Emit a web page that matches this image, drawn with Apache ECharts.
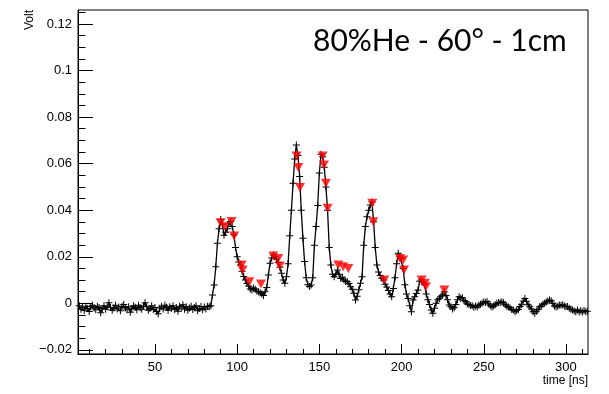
<!DOCTYPE html>
<html>
<head>
<meta charset="utf-8">
<script src="https://cdn.jsdelivr.net/npm/echarts@6/dist/echarts.min.js"></script>
<style>html,body{margin:0;padding:0;background:#fff}#c{width:609px;height:394px}</style>
</head>
<body>
<div id="c"></div>
<script>
// Sample times: waveform sampled every 1 ns starting at 4 ns
const sampleStartNs = 4;
const sampleStepNs = 1;
// Voltage samples (V), one per ns from 4 ns to 313 ns
const voltage = [
-0.0010,-0.0025,-0.0018,-0.0030,-0.0012,-0.0022,-0.0035,-0.0015,-0.0008,-0.0020,
-0.0028,-0.0012,-0.0018,-0.0040,-0.0022,-0.0010,-0.0025,-0.0015,0.0002,-0.0018,
-0.0030,-0.0020,-0.0008,-0.0024,-0.0016,-0.0032,-0.0012,-0.0005,-0.0020,-0.0027,
-0.0015,-0.0038,-0.0022,-0.0010,-0.0017,-0.0028,-0.0008,-0.0019,-0.0025,-0.0012,
0.0003,-0.0015,-0.0030,-0.0022,-0.0010,-0.0026,-0.0018,-0.0035,-0.0045,-0.0020,
-0.0012,-0.0024,-0.0008,-0.0017,-0.0030,-0.0015,-0.0022,-0.0010,-0.0028,-0.0018,
-0.0034,-0.0012,-0.0020,-0.0006,-0.0025,-0.0015,-0.0030,-0.0020,-0.0012,-0.0026,
-0.0018,-0.0010,-0.0032,-0.0022,-0.0014,-0.0027,-0.0016,-0.0024,-0.0012,
// 83 ns ->
-0.0015,-0.0010,0.0036,0.0079,0.0157,0.0258,0.0320,0.0360,0.0340,0.0293,
0.0305,0.0320,0.0345,0.0352,0.0330,0.0295,0.0240,0.0200,0.0178,0.0165,
0.0138,0.0115,0.0100,0.0085,0.0074,0.0062,0.0057,0.0066,0.0060,0.0052,
0.0050,0.0045,0.0040,0.0034,0.0050,0.0068,0.0122,0.0172,0.0195,0.0208,
0.0200,0.0190,0.0175,0.0155,0.0129,0.0100,0.0086,0.0114,0.0170,0.0290,
0.0400,0.0516,0.0620,0.0680,0.0635,0.0545,0.0400,0.0280,0.0180,0.0110,
0.0080,0.0072,0.0079,0.0110,0.0250,0.0330,0.0420,0.0560,0.0640,0.0630,
0.0585,0.0500,0.0400,0.0240,0.0165,0.0125,0.0114,0.0125,0.0143,0.0125,
0.0107,0.0112,0.0100,0.0094,0.0093,0.0085,0.0071,0.0060,0.0043,0.0014,
0.0030,0.0058,0.0086,0.0114,0.0250,0.0330,0.0372,0.0400,0.0422,0.0435,
0.0350,0.0240,0.0165,0.0135,0.0120,0.0108,0.0100,0.0082,0.0070,0.0055,
0.0040,0.0028,0.0064,0.0110,0.0170,0.0215,0.0200,0.0193,0.0150,0.0080,
0.0040,0.0021,-0.0010,-0.0036,0.0014,0.0028,0.0042,0.0057,0.0095,0.0100,
0.0092,0.0080,0.0040,0.0015,-0.0005,-0.0029,-0.0043,-0.0021,0.0000,0.0015,
0.0021,0.0030,0.0036,0.0050,0.0034,0.0015,-0.0007,-0.0015,-0.0024,-0.0019,
-0.0005,0.0015,0.0028,0.0022,0.0024,0.0012,0.0007,-0.0003,-0.0005,-0.0009,
-0.0010,-0.0017,-0.0011,-0.0016,-0.0008,-0.0004,0.0000,0.0006,0.0004,0.0008,
-0.0002,-0.0010,-0.0016,-0.0011,-0.0006,0.0000,0.0004,0.0002,0.0007,0.0002,
-0.0006,-0.0012,-0.0016,-0.0019,-0.0026,-0.0029,-0.0036,-0.0031,-0.0026,-0.0014,
-0.0006,0.0010,0.0021,0.0009,-0.0006,-0.0015,-0.0024,-0.0036,-0.0043,-0.0034,
-0.0026,-0.0015,-0.0011,-0.0004,0.0000,0.0006,0.0010,0.0014,0.0011,0.0000,
-0.0011,-0.0016,-0.0012,-0.0007,-0.0008,-0.0006,-0.0011,-0.0015,-0.0014,-0.0021,
-0.0025,-0.0029,-0.0033,-0.0036,-0.0029,-0.0037,-0.0032,-0.0037,-0.0031,-0.0036,
-0.0034
];
// Peaks found (red markers)
const peakTimes = [89.9,92.6,96.6,98.2,102.7,103.3,107.4,114.5,122,125,126,136.2,137.2,138.2,152,152.8,154,155,161.5,164.5,167.6,182.2,182.8,189.5,199,201,201.5,212.2,214.2,214.8,226];
const peakVolts = [0.0346,0.0329,0.0351,0.0289,0.0165,0.0143,0.0093,0.0083,0.0203,0.0193,0.016,0.0633,0.0583,0.0498,0.0633,0.0594,0.0516,0.0408,0.0165,0.0157,0.015,0.043,0.035,0.01,0.0193,0.0186,0.0143,0.01,0.0086,0.0071,0.0057];
// Axis ticks
const xMajorTicks = [50,100,150,200,250,300];
const xMinorTicks = [10,20,30,40,60,70,80,90,110,120,130,140,160,170,180,190,210,220,230,240,260,270,280,290,310];
const yMajorTicks = [-0.02,0,0.02,0.04,0.06,0.08,0.1,0.12];
const yMinorTicks = [-0.015,-0.01,-0.005,0.005,0.01,0.015,0.025,0.03,0.035,0.045,0.05,0.055,0.065,0.07,0.075,0.085,0.09,0.095,0.105,0.11,0.115,0.125];
const titleText = '80%He - 60° - 1cm';

const wave = voltage.map((v, i) => [sampleStartNs + i * sampleStepNs, v]);
const peaks = peakTimes.map((t, i) => [t, peakVolts[i]]);

const X_MIN = 3.2, X_MAX = 313.4, Y_MIN = -0.02176, Y_MAX = 0.126;
const FONT = 'Liberation Sans';
const plus = 'path://M3,0H4V3H7V4H4V7H3V4H0V3H3Z';

const fmtY = v => {
  const s = String(Number(v.toFixed(3)));
  return s.replace('-', '\u2212');
};

const chart = echarts.init(document.getElementById('c'), null, {renderer: 'canvas'});
chart.setOption({
  animation: false,
  backgroundColor: '#fff',
  grid: {left: 78, right: 21, top: 10, bottom: 40, show: true, borderColor: '#000', borderWidth: 1, backgroundColor: 'transparent'},
  xAxis: [
    {type: 'value', min: X_MIN, max: X_MAX, position: 'bottom',
     splitLine: {show: false},
     axisLine: {show: true, onZero: false, lineStyle: {color: '#000', width: 1}},
     axisTick: {show: true, inside: true, length: 10, customValues: xMajorTicks, lineStyle: {color: '#000', width: 1}},
     axisLabel: {show: true, customValues: xMajorTicks, color: '#000', fontFamily: FONT, fontSize: 13, margin: 7},
     name: 'time [ns]', nameLocation: 'end', nameGap: 0,
     nameTextStyle: {color: '#000', fontFamily: FONT, fontSize: 12, align: 'right', verticalAlign: 'top', padding: [21, 0, 0, 0]}
    },
    {type: 'value', min: X_MIN, max: X_MAX, position: 'bottom',
     splitLine: {show: false},
     axisLine: {show: false, onZero: false},
     axisTick: {show: true, inside: true, length: 5, customValues: xMinorTicks, lineStyle: {color: '#000', width: 1}},
     axisLabel: {show: false}
    }
  ],
  yAxis: [
    {type: 'value', min: Y_MIN, max: Y_MAX, position: 'left',
     splitLine: {show: false},
     axisLine: {show: true, onZero: false, lineStyle: {color: '#000', width: 1}},
     axisTick: {show: true, inside: true, length: 15, customValues: yMajorTicks, lineStyle: {color: '#000', width: 1}},
     axisLabel: {show: true, customValues: yMajorTicks, formatter: fmtY, color: '#000', fontFamily: FONT, fontSize: 13, margin: 6}
    },
    {type: 'value', min: Y_MIN, max: Y_MAX, position: 'left',
     splitLine: {show: false},
     axisLine: {show: false, onZero: false},
     axisTick: {show: true, inside: true, length: 7.5, customValues: yMinorTicks, lineStyle: {color: '#000', width: 1}},
     axisLabel: {show: false}
    }
  ],
  graphic: [
    {type: 'text', x: 30, y: 10, rotation: Math.PI / 2,
     style: {text: 'Volt', fill: '#000', font: '12px "Liberation Sans"', align: 'right', verticalAlign: 'middle'}},
    {type: 'text', x: 313, y: 41,
     style: {text: titleText, fill: '#000', font: '30px Lato', align: 'left', verticalAlign: 'middle'}}
  ],
  series: [
    {type: 'line', xAxisIndex: 0, yAxisIndex: 0, data: wave,
     symbol: plus, symbolSize: 7, showSymbol: true, showAllSymbol: true,
     itemStyle: {color: '#000'},
     lineStyle: {color: '#000', width: 1.3},
     emphasis: {disabled: true}, z: 2},
    {type: 'scatter', xAxisIndex: 0, yAxisIndex: 0, data: peaks,
     symbol: 'triangle', symbolRotate: 180, symbolSize: [10, 9],
     itemStyle: {color: '#ff0000'}, emphasis: {disabled: true}, z: 3}
  ]
});
</script>
</body>
</html>
